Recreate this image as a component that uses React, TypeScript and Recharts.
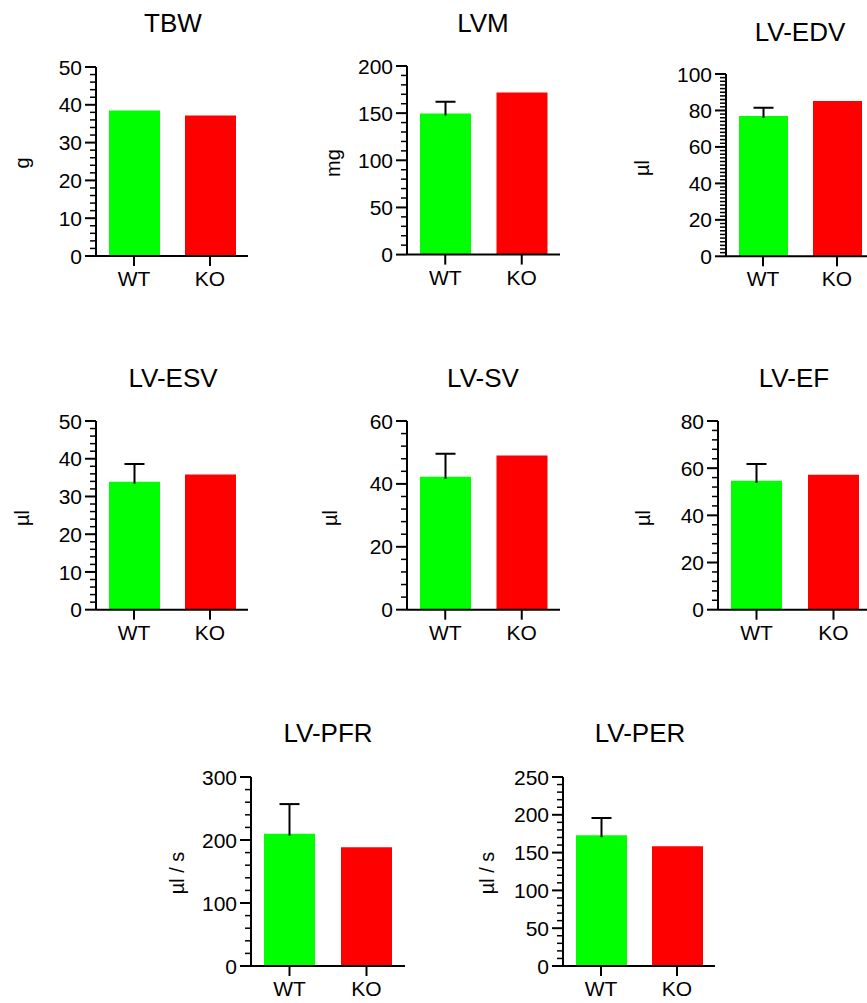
import React from "react";
import { BarChart, Bar, XAxis, YAxis, Cell } from "recharts";

const groups = ["WT", "KO"];
const groupColors = ["#00FF00", "#FF0000"];

// mean and upper error (SEM) per group, WT then KO
const tbwMean = [38.5, 37.2];
const tbwErr = [0, 0];
const lvmMean = [149.5, 172];
const lvmErr = [12.7, 0];
const edvMean = [77, 85.2];
const edvErr = [4.5, 0];
const esvMean = [33.9, 35.8];
const esvErr = [4.7, 0];
const svMean = [42.3, 49.0];
const svErr = [7.3, 0];
const efMean = [54.7, 57.2];
const efErr = [7.1, 0];
const pfrMean = [210, 188.4];
const pfrErr = [47, 0];
const perMean = [172.9, 158.3];
const perErr = [22.9, 0];

// major tick labels and minor tick step
const tbwTicks = [0, 10, 20, 30, 40, 50];
const lvmTicks = [0, 50, 100, 150, 200];
const edvTicks = [0, 20, 40, 60, 80, 100];
const esvTicks = [0, 10, 20, 30, 40, 50];
const svTicks = [0, 20, 40, 60];
const efTicks = [0, 20, 40, 60, 80];
const pfrTicks = [0, 100, 200, 300];
const perTicks = [0, 50, 100, 150, 200, 250];

const panels = [
  { title: "TBW", unit: "g", mean: tbwMean, err: tbwErr, ticks: tbwTicks, minor: 2,
    x0: 96, x1: 248, top: 66.7, bottom: 255.7, barW: 51, tx: 173, ty: 23, lx: 22, ly: 163 },
  { title: "LVM", unit: "mg", mean: lvmMean, err: lvmErr, ticks: lvmTicks, minor: 10,
    x0: 407, x1: 560, top: 65.7, bottom: 254.3, barW: 51, tx: 483, ty: 23, lx: 333, ly: 163 },
  { title: "LV-EDV", unit: "µl", mean: edvMean, err: edvErr, ticks: edvTicks, minor: 2,
    x0: 726, x1: 874, top: 74, bottom: 256.3, barW: 49, tx: 800, ty: 32, lx: 642, ly: 168 },
  { title: "LV-ESV", unit: "µl", mean: esvMean, err: esvErr, ticks: esvTicks, minor: 2,
    x0: 96, x1: 248, top: 421.3, bottom: 610, barW: 51, tx: 173, ty: 378, lx: 22, ly: 518 },
  { title: "LV-SV", unit: "µl", mean: svMean, err: svErr, ticks: svTicks, minor: 4,
    x0: 407, x1: 560, top: 421.3, bottom: 610, barW: 51, tx: 483, ty: 378, lx: 330, ly: 518 },
  { title: "LV-EF", unit: "µl", mean: efMean, err: efErr, ticks: efTicks, minor: 4,
    x0: 718, x1: 872, top: 421.3, bottom: 610, barW: 51, tx: 794, ty: 378, lx: 643, ly: 518 },
  { title: "LV-PFR", unit: "µl / s", mean: pfrMean, err: pfrErr, ticks: pfrTicks, minor: 20,
    x0: 251, x1: 405, top: 776.7, bottom: 965.7, barW: 51, tx: 328, ty: 733, lx: 177, ly: 873 },
  { title: "LV-PER", unit: "µl / s", mean: perMean, err: perErr, ticks: perTicks, minor: 10,
    x0: 563, x1: 715, top: 776.7, bottom: 965.7, barW: 51, tx: 640, ty: 733, lx: 487, ly: 873 },
];

const YW = 70;
const MT = 12;
const XH = 40;

function YTick(props: any) {
  const { x, y, payload, majors } = props;
  const major = majors.includes(payload.value);
  return (
    <g>
      <line x1={x - (major ? 11 : 6)} x2={x} y1={y} y2={y} stroke="#000" strokeWidth={major ? 2 : 1.5} />
      {major && (
        <text x={x - 14} y={y} dy="0.36em" textAnchor="end" fontSize={21} fill="#000">
          {payload.value}
        </text>
      )}
    </g>
  );
}

function Whisker(props: any) {
  const { x, y, width, height } = props;
  if (!height || height <= 0) return <g />;
  const cx = x + width / 2;
  return (
    <g>
      <line x1={cx} x2={cx} y1={y + height + 2} y2={y} stroke="#000" strokeWidth={2} />
      <line x1={cx - 10} x2={cx + 10} y1={y} y2={y} stroke="#000" strokeWidth={2} />
    </g>
  );
}

function Panel({ p }: { p: any }) {
  const data = groups.map((g, i) => ({ group: g, mean: p.mean[i], err: p.err[i] }));
  const max = p.ticks[p.ticks.length - 1];
  const allTicks: number[] = [];
  for (let v = 0; v <= max + 1e-9; v += p.minor) allTicks.push(Math.round(v * 1000) / 1000);
  const width = YW + (p.x1 - p.x0) + 2;
  const height = MT + (p.bottom - p.top) + XH;
  return (
    <>
      <div style={{ position: "absolute", left: p.x0 - YW, top: p.top - MT }}>
        <BarChart
          width={width}
          height={height}
          data={data}
          margin={{ top: MT, right: 2, bottom: 0, left: 0 }}
          barCategoryGap={0}
          barGap={0}
        >
          <XAxis
            dataKey="group"
            height={XH}
            interval={0}
            axisLine={{ stroke: "#000", strokeWidth: 2 }}
            tickLine={{ stroke: "#000", strokeWidth: 2 }}
            tickSize={10}
            tickMargin={5}
            tick={{ fill: "#000", fontSize: 21 }}
          />
          <YAxis
            width={YW}
            type="number"
            domain={[0, max]}
            allowDataOverflow
            ticks={allTicks}
            interval={0}
            tickLine={false}
            tickSize={0}
            tickMargin={0}
            axisLine={{ stroke: "#000", strokeWidth: 2 }}
            tick={<YTick majors={p.ticks} />}
          />
          <Bar dataKey="mean" stackId="s" barSize={p.barW} isAnimationActive={false}>
            {data.map((d, i) => (
              <Cell key={d.group} fill={groupColors[i]} />
            ))}
          </Bar>
          <Bar dataKey="err" stackId="s" barSize={p.barW} isAnimationActive={false} shape={<Whisker />} />
        </BarChart>
      </div>
      <div
        style={{
          position: "absolute",
          left: p.tx,
          top: p.ty,
          transform: "translate(-50%, -50%)",
          fontSize: 26,
          whiteSpace: "nowrap",
        }}
      >
        {p.title}
      </div>
      <div
        style={{
          position: "absolute",
          left: p.lx,
          top: p.ly,
          transform: "translate(-50%, -50%) rotate(-90deg)",
          fontSize: 20,
          whiteSpace: "nowrap",
        }}
      >
        {p.unit}
      </div>
    </>
  );
}

export default function App() {
  return (
    <div
      style={{
        position: "absolute",
        left: 0,
        top: 0,
        width: 867,
        height: 1003,
        overflow: "hidden",
        background: "#fff",
        fontFamily: "'Liberation Sans', Arial, sans-serif",
        color: "#000",
      }}
    >
      {panels.map((p) => (
        <Panel key={p.title} p={p} />
      ))}
    </div>
  );
}
